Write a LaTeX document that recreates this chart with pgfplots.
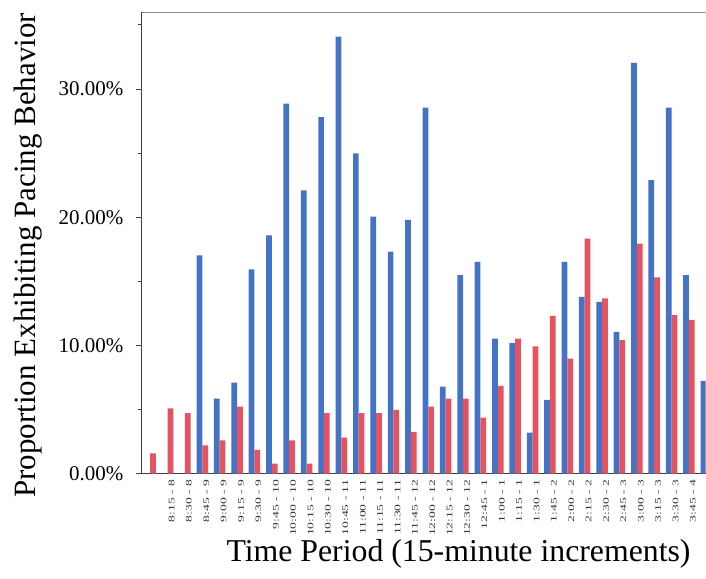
\documentclass[border=0pt]{standalone}
\usepackage{fontspec}
\setmainfont{Liberation Serif}
\usepackage{graphicx}
\usepackage{pgfplots}
\pgfplotsset{compat=1.18}

\definecolor{barblue}{RGB}{68,114,196}
\definecolor{barred}{RGB}{228,84,96}

% stretched, small category labels
\newcommand{\tl}[1]{\scalebox{1.6}[1]{#1}}

\begin{document}
\begin{tikzpicture}
\begin{axis}[
  at={(0pt,0pt)}, anchor=south west,
  scale only axis,
  width=564.4pt, height=462pt,
  xmin=-0.5, xmax=31.96,
  ymin=0, ymax=36,
  axis x line*=bottom,
  axis y line*=left,
  axis line style={black!75, line width=0.8pt},
  ytick={0,10,20,30},
  yticklabels={0.00\%,10.00\%,20.00\%,30.00\%},
  minor ytick={5,15,25,35},
  tick align=outside,
  major tick length=6pt,
  minor tick length=4pt,
  ytick style={black!75, line width=0.8pt},
  yticklabel style={font=\fontsize{21}{24}\selectfont, inner sep=0pt, xshift=-12pt},
  xtick={0,...,31},
  xtick style={draw=none},
  xticklabels={{},\tl{8:15 - 8},\tl{8:30 - 8},\tl{8:45 - 9},\tl{9:00 - 9},\tl{9:15 - 9},\tl{9:30 - 9},
    \tl{9:45 - 10},\tl{10:00 - 10},\tl{10:15 - 10},\tl{10:30 - 10},\tl{10:45 - 11},\tl{11:00 - 11},
    \tl{11:15 - 11},\tl{11:30 - 11},\tl{11:45 - 12},\tl{12:00 - 12},\tl{12:15 - 12},\tl{12:30 - 12},
    \tl{12:45 - 1},\tl{1:00 - 1},\tl{1:15 - 1},\tl{1:30 - 1},\tl{1:45 - 2},\tl{2:00 - 2},\tl{2:15 - 2},
    \tl{2:30 - 2},\tl{2:45 - 3},\tl{3:00 - 3},\tl{3:15 - 3},\tl{3:30 - 3},\tl{3:45 - 4}},
  xticklabel style={rotate=90, anchor=east, inner sep=0pt, yshift=-4pt,
    font=\fontsize{8.5}{9}\selectfont, text=black!80},
  xlabel={Time Period (15-minute increments)},
  xlabel style={at={(axis description cs:0.562,-0.174)}, anchor=center,
    font=\fontsize{31.8}{34}\selectfont},
  ylabel={Proportion Exhibiting Pacing Behavior},
  ylabel style={at={(axis description cs:-0.201,0.473)}, anchor=center,
    font=\fontsize{31}{34}\selectfont},
  ybar, bar width=0.33,
]
\draw[black!45, line width=0.8pt] (rel axis cs:0,1) -- (rel axis cs:1,1);

% Share of the first group exhibiting pacing
\addplot[fill=barblue, draw=none, bar shift=-0.165] table {
x y
3 17.03
4 5.86
5 7.11
6 15.94
7 18.59
8 28.85
9 22.10
10 27.81
11 34.07
12 24.98
13 20.05
14 17.32
15 19.79
16 28.54
17 6.80
18 15.48
19 16.52
20 10.54
21 10.18
22 3.21
23 5.76
24 16.52
25 13.79
26 13.40
27 11.06
28 32.04
29 22.90
30 28.54
31 15.48
32 7.24
};

% Share of the second group exhibiting pacing
\addplot[fill=barred, draw=none, bar shift=0.165] table {
x y
0 1.58
1 5.09
2 4.72
3 2.22
4 2.61
5 5.24
6 1.86
7 0.79
8 2.61
9 0.79
10 4.72
11 2.82
12 4.72
13 4.72
14 4.98
15 3.27
16 5.24
17 5.86
18 5.86
19 4.38
20 6.85
21 10.54
22 9.92
23 12.31
24 8.98
25 18.33
26 13.68
27 10.41
28 17.94
29 15.30
30 12.36
31 12.00
};
\end{axis}
\path (-141.6pt,-104.4pt) rectangle (564.4pt,474pt);
\end{tikzpicture}
\end{document}
